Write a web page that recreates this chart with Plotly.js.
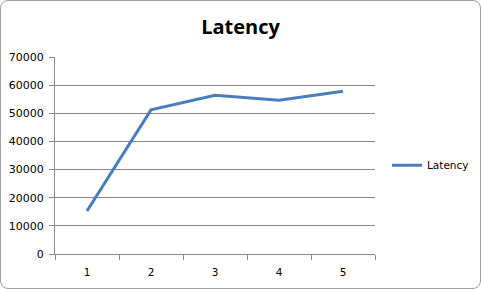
<!DOCTYPE html>
<html>
<head>
<meta charset="utf-8">
<script src="https://cdn.plot.ly/plotly-3.0.1.min.js"></script>
<style>
html,body{margin:0;padding:0;background:#fff;}
#wrap{position:absolute;left:0;top:0;width:479px;height:287px;border:1px solid #a0a0a0;border-radius:8px;overflow:hidden;}
#chart{position:absolute;left:-1px;top:-1px;width:481px;height:289px;}
</style>
</head>
<body>
<div id="wrap"><div id="chart"></div></div>
<script>
var categories = ["1", "2", "3", "4", "5"];
var latency = [15300, 51200, 56400, 54600, 57800];
var seriesName = "Latency";
var yTicks = [0, 10000, 20000, 30000, 40000, 50000, 60000, 70000];

var trace = {
  x: categories,
  y: latency,
  type: "scatter",
  mode: "lines",
  name: seriesName,
  line: {color: "#4a7ebb", width: 3}
};

var layout = {
  width: 481,
  height: 289,
  margin: {l: 55, r: 106, t: 57, b: 35, autoexpand: false},
  paper_bgcolor: "rgba(0,0,0,0)",
  plot_bgcolor: "#ffffff",
  title: {
    text: "<b>Latency</b>",
    font: {family: "Open Sans, DejaVu Sans, sans-serif", size: 20, color: "#000"},
    x: 0.5, xref: "container", xanchor: "center",
    y: 1 - 27/289, yref: "container", yanchor: "middle"
  },
  xaxis: {
    type: "category",
    range: [-0.5, 4.5],
    tickson: "boundaries",
    ticks: "outside",
    ticklen: 5,
    tickcolor: "#888",
    ticklabelstandoff: 8,
    showgrid: false,
    showline: true,
    linecolor: "#888",
    linewidth: 1,
    zeroline: false,
    automargin: false,
    tickfont: {family: "DejaVu Sans, Verdana, sans-serif", size: 10.5, color: "#000"},
    fixedrange: true
  },
  yaxis: {
    range: [0, 70000],
    tickvals: yTicks,
    ticktext: yTicks.map(String),
    ticks: "outside",
    ticklen: 5,
    tickcolor: "#888",
    ticklabelstandoff: 3,
    showgrid: true,
    gridcolor: "#868686",
    gridwidth: 1,
    showline: true,
    linecolor: "#888",
    linewidth: 1,
    zeroline: false,
    automargin: false,
    tickfont: {family: "DejaVu Sans, Verdana, sans-serif", size: 11, color: "#000"},
    fixedrange: true
  },
  showlegend: true,
  legend: {
    x: 1.0375, xanchor: "left",
    y: 0.45, yanchor: "middle",
    font: {family: "DejaVu Sans, Verdana, sans-serif", size: 10.5, color: "#000"},
    bgcolor: "rgba(0,0,0,0)",
    itemwidth: 30
  }
};

Plotly.newPlot("chart", [trace], layout, {staticPlot: true, displayModeBar: false});
</script>
</body>
</html>
